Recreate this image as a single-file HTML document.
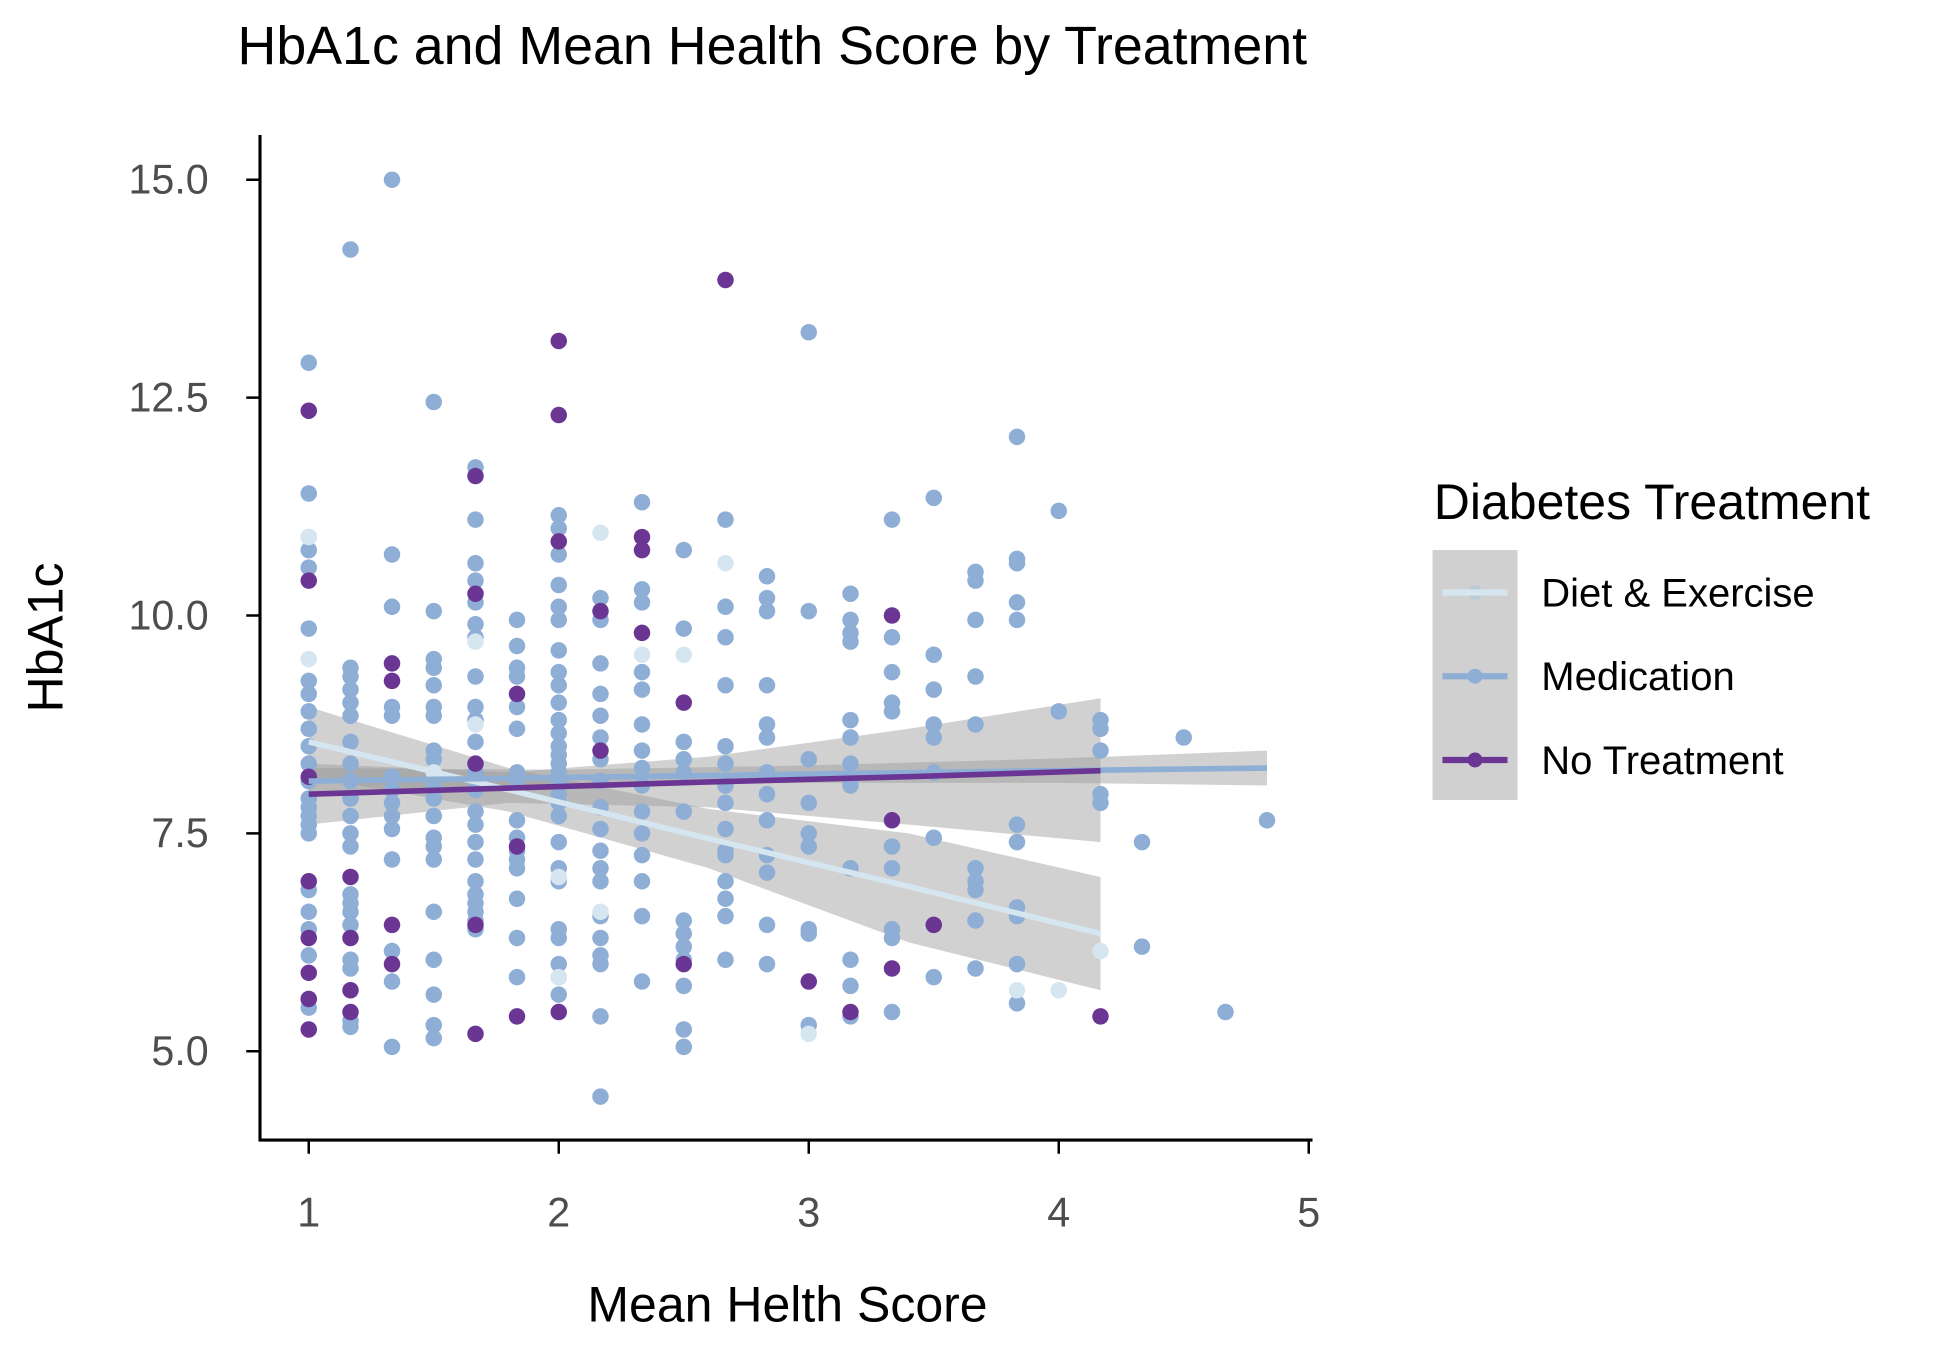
<!DOCTYPE html>
<html><head><meta charset="utf-8"><style>
html,body{margin:0;padding:0;background:#fff;}
svg{display:block;font-family:"Liberation Sans",Arial,sans-serif;}
</style></head><body>
<svg id="chart" width="1950" height="1350" viewBox="0 0 1560 1080" xmlns="http://www.w3.org/2000/svg">
<rect width="1560" height="1080" fill="#fff"/>
<text x="190" y="51" font-size="43" fill="#000">HbA1c and Mean Health Score by Treatment</text>
<g id="bands"></g>
<g id="points"></g>
<g id="lines"></g>
<g id="axes"></g>
<text x="630" y="1057" font-size="40" text-anchor="middle" fill="#000">Mean Helth Score</text>
<text transform="translate(50,510) rotate(-90)" font-size="40" text-anchor="middle" fill="#000">HbA1c</text>
<g>
<text x="1147" y="415" font-size="40" fill="#000">Diabetes Treatment</text>
<rect x="1146" y="440" width="68" height="200" fill="#d0d0d0"/>
<g>
<circle cx="1180" cy="474" r="6" fill="#bccbd6"/><line x1="1154" x2="1206" y1="474" y2="474" stroke="#d6e6f0" stroke-width="5"/>
<text x="1233" y="485" font-size="32">Diet &amp; Exercise</text></g>
<g>
<circle cx="1180" cy="541" r="6" fill="#8eaed6"/><line x1="1154" x2="1206" y1="541" y2="541" stroke="#8eaed6" stroke-width="5"/>
<text x="1233" y="552" font-size="32">Medication</text></g>
<g>
<circle cx="1180" cy="608" r="6" fill="#6b3693"/><line x1="1154" x2="1206" y1="608" y2="608" stroke="#6b3693" stroke-width="5"/>
<text x="1233" y="619" font-size="32">No Treatment</text></g>
</g>
</svg>
<script>
const xTicks=[1,2,3,4,5];
const yTicks=[5,7.5,10,12.5,15];
const yTickLabels=["5.0","7.5","10.0","12.5","15.0"];
const medX=[1,1,1,1,1,1,1,1,1,1,1,1,1,1,1,1,1,1,1,1,1,1,1,1,
1.167,1.167,1.167,1.167,1.167,1.167,1.167,1.167,1.167,1.167,1.167,1.167,1.167,1.167,1.167,1.167,1.167,1.167,1.167,1.167,1.167,
1.333,1.333,1.333,1.333,1.333,1.333,1.333,1.333,1.333,1.333,1.333,1.333,1.333,1.333,
1.5,1.5,1.5,1.5,1.5,1.5,1.5,1.5,1.5,1.5,1.5,1.5,1.5,1.5,1.5,1.5,1.5,1.5,1.5,1.5,
1.667,1.667,1.667,1.667,1.667,1.667,1.667,1.667,1.667,1.667,1.667,1.667,1.667,1.667,1.667,1.667,1.667,1.667,1.667,1.667,1.667,1.667,1.667,1.667,
1.833,1.833,1.833,1.833,1.833,1.833,1.833,1.833,1.833,1.833,1.833,1.833,1.833,1.833,1.833,1.833,
2,2,2,2,2,2,2,2,2,2,2,2,2,2,2,2,2,2,2,2,2,2,2,2,2,2,2,2,
2.167,2.167,2.167,2.167,2.167,2.167,2.167,2.167,2.167,2.167,2.167,2.167,2.167,2.167,2.167,2.167,2.167,2.167,2.167,
2.333,2.333,2.333,2.333,2.333,2.333,2.333,2.333,2.333,2.333,2.333,2.333,2.333,2.333,2.333,
2.5,2.5,2.5,2.5,2.5,2.5,2.5,2.5,2.5,2.5,2.5,2.5,2.5,
2.667,2.667,2.667,2.667,2.667,2.667,2.667,2.667,2.667,2.667,2.667,2.667,2.667,2.667,2.667,
2.833,2.833,2.833,2.833,2.833,2.833,2.833,2.833,2.833,2.833,2.833,2.833,2.833,
3,3,3,3,3,3,3,3,3,
3.167,3.167,3.167,3.167,3.167,3.167,3.167,3.167,3.167,3.167,3.167,3.167,
3.333,3.333,3.333,3.333,3.333,3.333,3.333,3.333,3.333,3.333,
3.5,3.5,3.5,3.5,3.5,3.5,3.5,3.5,
3.667,3.667,3.667,3.667,3.667,3.667,3.667,3.667,3.667,3.667,
3.833,3.833,3.833,3.833,3.833,3.833,3.833,3.833,3.833,3.833,3.833,
4,4,4.167,4.167,4.167,4.167,4.167,4.333,4.333,4.5,4.667,4.833];
const medY=[12.9,11.4,10.9,10.75,10.55,9.85,9.25,9.1,8.9,8.7,8.5,8.3,8.1,7.9,7.8,7.7,7.6,7.5,6.85,6.6,6.4,6.1,5.6,5.5,
14.2,9.4,9.3,9.15,9.0,8.85,8.55,8.3,8.1,7.9,7.7,7.5,7.35,6.8,6.7,6.6,6.45,6.05,5.95,5.35,5.28,
15.0,10.7,10.1,8.95,8.85,8.15,8.0,7.85,7.7,7.55,7.2,6.15,5.8,5.05,
12.45,10.05,9.5,9.4,9.2,8.95,8.85,8.45,8.35,8.05,7.9,7.7,7.45,7.35,7.2,6.6,6.05,5.65,5.3,5.15,
11.7,11.1,10.6,10.4,10.15,9.9,9.75,9.3,8.95,8.8,8.55,8.3,8.2,8.0,7.75,7.6,7.4,7.2,6.95,6.8,6.7,6.6,6.5,6.4,
9.95,9.65,9.4,9.3,8.95,8.7,8.2,8.05,7.65,7.45,7.3,7.2,7.1,6.75,6.3,5.85,
11.15,11.0,10.7,10.35,10.1,9.95,9.6,9.35,9.2,9.0,8.8,8.65,8.5,8.4,8.3,8.2,8.1,7.95,7.85,7.7,7.4,7.1,6.95,6.4,6.3,6.0,5.85,5.65,
10.2,9.95,9.45,9.1,8.85,8.6,8.35,8.1,7.8,7.55,7.3,7.1,6.95,6.55,6.3,6.1,6.0,5.4,4.48,
11.3,10.3,10.15,9.35,9.15,8.75,8.45,8.25,8.05,7.75,7.5,7.25,6.95,6.55,5.8,
10.75,9.85,8.55,8.35,8.2,7.75,6.5,6.35,6.2,6.05,5.75,5.25,5.05,
11.1,10.1,9.75,9.2,8.5,8.3,8.05,7.85,7.55,7.3,7.25,6.95,6.75,6.55,6.05,
10.45,10.2,10.05,9.2,8.75,8.6,8.2,7.95,7.65,7.25,7.05,6.45,6.0,
13.25,10.05,8.35,7.85,7.5,7.35,6.4,6.35,5.3,
10.25,9.95,9.8,9.7,8.8,8.6,8.3,8.05,7.1,6.05,5.75,5.4,
11.1,9.75,9.35,9.0,8.9,7.35,7.1,6.4,6.3,5.45,
11.35,9.55,9.15,8.75,8.6,8.2,7.45,5.85,
10.5,10.4,9.95,9.3,8.75,7.1,6.95,6.85,6.5,5.95,
12.05,10.65,10.6,10.15,9.95,7.6,7.4,6.65,6.55,6.0,5.55,
11.2,8.9,8.8,8.7,8.45,7.95,7.85,7.4,6.2,8.6,5.45,7.65];
const dietX=[1,1,1.667,1.667,2,2,2.167,2.167,2.333,2.5,2.667,3,3.833,4,4.167,1.5];
const dietY=[10.9,9.5,9.7,8.75,7.0,5.85,10.95,6.6,9.55,9.55,10.6,5.2,5.7,5.7,6.15,8.2];
const noX=[1,1,1,1,1,1,1,1,1.167,1.167,1.167,1.167,1.333,1.333,1.333,1.333,1.667,1.667,1.667,1.667,1.667,1.833,1.833,1.833,2,2,2,2,2.167,2.167,2.333,2.333,2.333,2.5,2.5,2.667,3,3.167,3.333,3.333,3.333,3.5,4.167];
const noY=[12.35,10.4,8.15,6.95,6.3,5.9,5.6,5.25,7.0,6.3,5.7,5.45,9.45,9.25,6.45,6.0,11.6,10.25,8.3,6.45,5.2,9.1,7.35,5.4,13.15,12.3,10.85,5.45,10.05,8.45,10.9,10.75,9.8,9.0,6.0,13.85,5.8,5.45,10.0,7.65,5.95,6.45,5.4];
// fitted lines and confidence bands (x, fit, lower, upper)
const dietFitX=[1,1.8,2.6,3.4,4.167];
const dietFit=[8.55,8.0,7.44,6.89,6.35];
const dietLo=[8.15,7.75,7.1,6.25,5.7];
const dietHi=[8.95,8.25,7.78,7.5,7.0];
const medFitX=[1,2,3,4,4.833];
const medFit=[8.1,8.14,8.18,8.22,8.25];
const medLo=[7.95,8.05,8.08,8.08,8.05];
const medHi=[8.25,8.23,8.28,8.36,8.45];
const noFitX=[1,1.8,2.6,3.4,4.167];
const noFit=[7.95,8.02,8.09,8.15,8.22];
const noLo=[7.6,7.85,7.8,7.6,7.4];
const noHi=[8.3,8.2,8.38,8.7,9.05];

const NS="http://www.w3.org/2000/svg";
const X=v=>247+(v-1)*200;
const Y=v=>841-(v-5)*69.72;
function mk(tag,attrs,parent){const e=document.createElementNS(NS,tag);for(const k in attrs)e.setAttribute(k,attrs[k]);parent.appendChild(e);return e;}
const bands=document.getElementById('bands'),pts=document.getElementById('points'),lines=document.getElementById('lines'),axes=document.getElementById('axes');
function band(xs,lo,hi,name){
  let d=xs.map((x,i)=>(i?'L':'M')+X(x)+','+Y(hi[i])).join(' ');
  for(let i=xs.length-1;i>=0;i--)d+=' L'+X(xs[i])+','+Y(lo[i]);
  const p=mk('path',{d:d+' Z',fill:'#999','fill-opacity':'0.45'},bands);
  
  
}
band(dietFitX,dietLo,dietHi,'diet-confidence-band');
band(medFitX,medLo,medHi,'medication-confidence-band');
band(noFitX,noLo,noHi,'no-treatment-confidence-band');
function points(xs,ys,col,name){
  xs.forEach((x,i)=>{const c=mk('circle',{cx:X(x),cy:Y(ys[i]),r:6.6,fill:col},pts);
  
  });
}
points(medX,medY,'#8eaed6','medication-point');
points(dietX,dietY,'#d6e6f0','diet-point');
points(noX,noY,'#6b3693','no-treatment-point');
function line(xs,ys,col,name){
  const l=mk('polyline',{points:xs.map((x,i)=>X(x)+','+Y(ys[i])).join(' '),fill:'none',stroke:col,'stroke-width':4.5},lines);
  
  
}
line(dietFitX,dietFit,'#d6e6f0','diet-trend-line');
line(medFitX,medFit,'#8eaed6','medication-trend-line');
line(noFitX,noFit,'#6b3693','no-treatment-trend-line');
const ya=mk('line',{x1:208,x2:208,y1:108,y2:913,stroke:'#000','stroke-width':2.5},axes);


const xa=mk('line',{x1:207,x2:1050,y1:912,y2:912,stroke:'#000','stroke-width':2.5},axes);


xTicks.forEach(v=>{
  mk('line',{x1:X(v),x2:X(v),y1:912,y2:923,stroke:'#000','stroke-width':2},axes);
  const t=mk('text',{x:X(v),y:981,'font-size':33,'text-anchor':'middle',fill:'#4d4d4d'},axes);
  t.textContent=v;
  
  
});
yTicks.forEach((v,i)=>{
  mk('line',{x1:197,x2:208,y1:Y(v),y2:Y(v),stroke:'#000','stroke-width':2},axes);
  const t=mk('text',{x:167,y:Y(v)+11,'font-size':33,'text-anchor':'end',fill:'#4d4d4d'},axes);
  t.textContent=yTickLabels[i];
  
  
});
</script>
</body></html>
